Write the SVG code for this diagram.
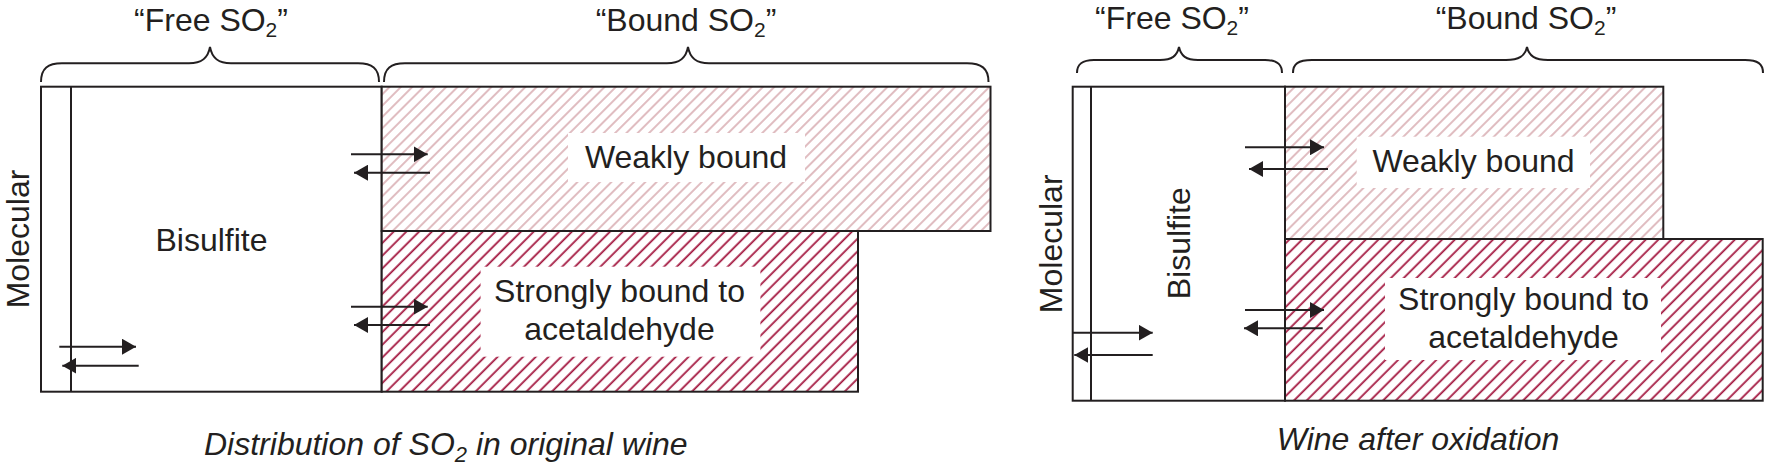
<svg xmlns="http://www.w3.org/2000/svg" width="1767" height="471" viewBox="0 0 1767 471">
<style>
.box{fill:none;stroke:#231f20;stroke-width:2}
.ln{stroke:#231f20;stroke-width:2}
.brace{fill:none;stroke:#231f20;stroke-width:2}
.lbl{font-family:"Liberation Sans",Arial,Helvetica,sans-serif;font-size:32px;fill:#231f20;text-anchor:middle}
.hdr{font-family:"Liberation Sans",Arial,Helvetica,sans-serif;font-size:32px;fill:#231f20;text-anchor:middle}
.cap{font-family:"Liberation Sans",Arial,Helvetica,sans-serif;font-size:32px;font-style:italic;fill:#231f20}
.arr{stroke:#231f20;stroke-width:2;fill:none;marker-end:url(#ah)}
.weak{fill:url(#hw)}
.strong{fill:url(#hs)}
.pad{fill:#ffffff}
</style>
<defs>
<pattern id="hw" patternUnits="userSpaceOnUse" width="8" height="20" patternTransform="rotate(45)">
<rect width="8" height="20" fill="#ffffff"/>
<line x1="1" y1="0" x2="1" y2="20" stroke="#d09aa0" stroke-width="1.3"/>
</pattern>
<pattern id="hs" patternUnits="userSpaceOnUse" width="9" height="20" patternTransform="rotate(45)">
<rect width="9" height="20" fill="#ffffff"/>
<line x1="1.2" y1="0" x2="1.2" y2="20" stroke="#a3173f" stroke-width="1.8"/>
</pattern>
<marker id="ah" markerUnits="userSpaceOnUse" viewBox="0 0 14 16" markerWidth="14" markerHeight="16" refX="14" refY="8" orient="auto">
<path d="M0,0 L14,8 L0,16 Z" fill="#231f20"/>
</marker>
</defs>

<!-- LEFT PANEL -->
<g id="left-free">
<rect class="box" x="41" y="86.7" width="340.7" height="305"/>
<line class="ln" x1="71" y1="86.7" x2="71" y2="391.7"/>
<text class="lbl" x="211.5" y="251">Bisulfite</text>
<text class="lbl" transform="translate(28.5,239) rotate(-90)">Molecular</text>
</g>
<g id="left-weak">
<rect class="weak" x="381.7" y="86.7" width="608.8" height="144.3"/>
<rect class="pad" x="568" y="133" width="237" height="49"/>
<rect class="box" x="381.7" y="86.7" width="608.8" height="144.3"/>
<text class="lbl" x="686" y="168.3">Weakly bound</text>
</g>
<g id="left-strong">
<rect class="strong" x="381.7" y="231" width="476.3" height="160.7"/>
<rect class="pad" x="480.6" y="266.7" width="279.8" height="90"/>
<rect class="box" x="381.7" y="231" width="476.3" height="160.7"/>
<text class="lbl" x="619.5" y="301.5">Strongly bound to</text>
<text class="lbl" x="619.5" y="340">acetaldehyde</text>
</g>
<g id="left-headers">
<path class="brace" d="M41,82 C41,68 48,63.3 62,63.3 L189,63.3 C202,63.3 208,58 210,47 C212,58 218,63.3 231,63.3 L358,63.3 C372,63.3 379,68 379,82"/>
<path class="brace" d="M384,82 C384,68 391,63.3 405,63.3 L667,63.3 C680,63.3 686,58 688,47 C690,58 696,63.3 709,63.3 L967,63.3 C981,63.3 988.5,68 988.5,82"/>
<text class="hdr" x="211" y="30.7">“Free SO<tspan font-size="21" dy="6">2</tspan><tspan dy="-6">”</tspan></text>
<text class="hdr" x="686" y="30.7">“Bound SO<tspan font-size="21" dy="6">2</tspan><tspan dy="-6">”</tspan></text>
</g>
<g id="left-caption">
<text class="cap" x="204" y="455" font-size="33">Distribution of SO<tspan font-size="22" dy="7">2</tspan><tspan dy="-7"> in original wine</tspan></text>
</g>

<!-- RIGHT PANEL -->
<g id="right-free">
<rect class="box" x="1072.7" y="86.7" width="212.3" height="314"/>
<line class="ln" x1="1091" y1="86.7" x2="1091" y2="400.7"/>
<text class="lbl" transform="translate(1190,243.3) rotate(-90)">Bisulfite</text>
<text class="lbl" transform="translate(1062,243.8) rotate(-90)">Molecular</text>
</g>
<g id="right-weak">
<rect class="weak" x="1285" y="86.7" width="378.3" height="152.3"/>
<rect class="pad" x="1356.7" y="136.7" width="233.3" height="51.3"/>
<rect class="box" x="1285" y="86.7" width="378.3" height="152.3"/>
<text class="lbl" x="1473.5" y="172.3">Weakly bound</text>
</g>
<g id="right-strong">
<rect class="strong" x="1285" y="239" width="477.7" height="161.7"/>
<rect class="pad" x="1385" y="278" width="276" height="82"/>
<rect class="box" x="1285" y="239" width="477.7" height="161.7"/>
<text class="lbl" x="1523.5" y="310">Strongly bound to</text>
<text class="lbl" x="1523.5" y="348.3">acetaldehyde</text>
</g>
<g id="right-headers">
<path class="brace" d="M1077,73 C1077,64 1082,60 1094,60 L1160,60 C1172,60 1177,56 1179,47 C1181,56 1186,60 1198,60 L1265,60 C1277,60 1282,64 1282,73"/>
<path class="brace" d="M1293,73 C1293,64 1298,60 1312,60 L1506,60 C1519,60 1525,56 1527,47 C1529,56 1535,60 1548,60 L1745,60 C1758,60 1763,64 1763,73"/>
<text class="hdr" x="1172" y="29">“Free SO<tspan font-size="21" dy="6">2</tspan><tspan dy="-6">”</tspan></text>
<text class="hdr" x="1526" y="29">“Bound SO<tspan font-size="21" dy="6">2</tspan><tspan dy="-6">”</tspan></text>
</g>
<g id="right-caption">
<text class="cap" x="1418" y="450" text-anchor="middle">Wine after oxidation</text>
</g>

<!-- CONNECTORS -->
<g id="connectors">
<line class="arr" x1="351" y1="154.3" x2="427.7" y2="154.3"/>
<line class="arr" x1="430" y1="172.7" x2="354" y2="172.7"/>
<line class="arr" x1="351" y1="306.7" x2="427.7" y2="306.7"/>
<line class="arr" x1="430" y1="325" x2="354" y2="325"/>
<line class="arr" x1="59.3" y1="346.7" x2="136" y2="346.7"/>
<line class="arr" x1="138.7" y1="365.7" x2="62.3" y2="365.7"/>
<line class="arr" x1="1245" y1="147.3" x2="1324" y2="147.3"/>
<line class="arr" x1="1328" y1="169" x2="1249" y2="169"/>
<line class="arr" x1="1245" y1="310" x2="1324" y2="310"/>
<line class="arr" x1="1322.7" y1="328.3" x2="1244" y2="328.3"/>
<line class="arr" x1="1072.7" y1="332.7" x2="1152.7" y2="332.7"/>
<line class="arr" x1="1152.7" y1="355" x2="1074.3" y2="355"/>
</g>
</svg>
